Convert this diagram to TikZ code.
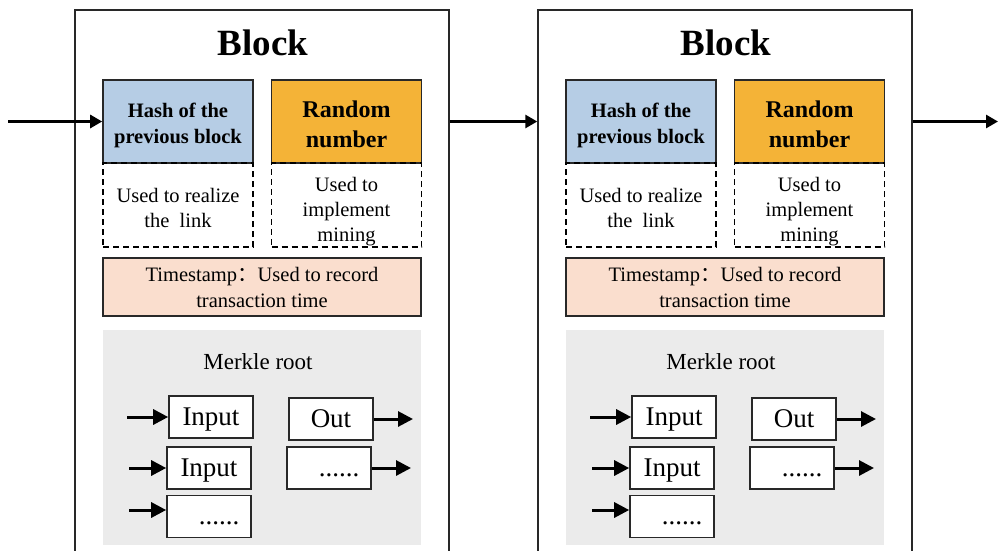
\documentclass[tikz,border=0pt]{standalone}
\usepackage{fontspec}
\setmainfont{Liberation Serif}
\newfontfamily\cjk{Noto Sans CJK SC}
\usetikzlibrary{arrows.meta,calc}
\definecolor{hash_blue}{RGB}{182, 205, 229}
\definecolor{rand_orange}{RGB}{244, 179, 55}
\definecolor{time_pink}{RGB}{250, 222, 206}
\definecolor{merkle_gray}{RGB}{235, 235, 235}
\definecolor{edge_gray}{RGB}{40, 40, 40}
\tikzstyle{ob}=[draw=edge_gray,line width=1.4pt,inner sep=0pt,
  minimum width=374pt,minimum height=560pt]
\tikzstyle{hb}=[draw=edge_gray,fill=hash_blue,line width=1.6pt,inner sep=0pt,
  minimum width=150pt,minimum height=83pt,align=center,text height=48pt,text depth=5pt,
  font=\fontsize{20.5}{26}\selectfont\bfseries]
\tikzstyle{rb}=[draw=edge_gray,fill=rand_orange,line width=1.6pt,inner sep=0pt,
  minimum width=150pt,minimum height=83pt,align=center,text height=55pt,text depth=4pt,
  font=\fontsize{24}{30}\selectfont\bfseries]
\tikzstyle{db}=[draw=black,dashed,dash pattern=on 6pt off 4pt,line width=1.8pt,
  inner sep=0pt,minimum width=150pt,minimum height=84pt,align=center,
  font=\fontsize{20.5}{25}\selectfont]
\tikzstyle{tb}=[draw=edge_gray,fill=time_pink,line width=1.6pt,inner sep=0pt,
  minimum width=318pt,minimum height=58pt,align=center,
  font=\fontsize{20.5}{26}\selectfont]
\tikzstyle{mb}=[fill=merkle_gray,inner sep=0pt,minimum width=318pt,minimum height=215pt]
\tikzstyle{ib}=[draw=edge_gray,fill=white,line width=1.6pt,inner sep=0pt,
  minimum width=84pt,minimum height=42pt,text height=20pt,text depth=4pt,
  font=\fontsize{27}{30}\selectfont]
\tikzstyle{arr}=[-{Triangle[length=12pt,width=13pt]},line width=2.8pt]
\tikzstyle{marr}=[-{Triangle[length=15pt,width=15pt]},line width=3pt]

\begin{document}
\begin{tikzpicture}[x=1pt,y=-1pt]
        \useasboundingbox (0, 0) rectangle (998, 550);
        % first block
        \node[style=ob] (1) at (262, 290) {};
        \node[anchor=base,font=\fontsize{37}{40}\selectfont\bfseries] (2) at (263, 55) {Block};
        \node[style=hb] (3) at (178, 121.5) {Hash of the\\previous block};
        \node[style=rb] (4) at (346.5, 121.5) {Random\\number};
        \node[style=db,text height=48pt,text depth=4pt] (5) at (178, 205) {Used to realize\\the\ \ link};
        \node[style=db,text height=76pt,text depth=4pt] (6) at (346.5, 205) {Used to\\implement\\mining};
        \node[style=tb] (7) at (262, 287) {Timestamp{\cjk ：}Used to record\\transaction time};
        \node[style=mb] (8) at (262, 437.5) {};
        \node[anchor=base,font=\fontsize{23}{28}\selectfont] (9) at (258, 369) {Merkle root};
        \node[style=ib] (10) at (211, 417) {Input};
        \node[style=ib] (11) at (331, 419) {Out};
        \node[style=ib] (12) at (209, 468) {Input};
        \node[style=ib] (13) at (329, 468) {\hspace*{20pt}......};
        \node[style=ib] (14) at (209, 516.5) {\hspace*{20pt}......};
        \coordinate (15) at (127, 417);
        \coordinate (16) at (129, 468);
        \coordinate (17) at (129, 510);
        \coordinate (18) at (413, 419);
        \coordinate (19) at (411, 468);
        % second block
        \node[style=ob] (21) at (725, 290) {};
        \node[anchor=base,font=\fontsize{37}{40}\selectfont\bfseries] (22) at (726, 55) {Block};
        \node[style=hb] (23) at (641, 121.5) {Hash of the\\previous block};
        \node[style=rb] (24) at (809.5, 121.5) {Random\\number};
        \node[style=db,text height=48pt,text depth=4pt] (25) at (641, 205) {Used to realize\\the\ \ link};
        \node[style=db,text height=76pt,text depth=4pt] (26) at (809.5, 205) {Used to\\implement\\mining};
        \node[style=tb] (27) at (725, 287) {Timestamp{\cjk ：}Used to record\\transaction time};
        \node[style=mb] (28) at (725, 437.5) {};
        \node[anchor=base,font=\fontsize{23}{28}\selectfont] (29) at (721, 369) {Merkle root};
        \node[style=ib] (30) at (674, 417) {Input};
        \node[style=ib] (31) at (794, 419) {Out};
        \node[style=ib] (32) at (672, 468) {Input};
        \node[style=ib] (33) at (792, 468) {\hspace*{20pt}......};
        \node[style=ib] (34) at (672, 516.5) {\hspace*{20pt}......};
        \coordinate (35) at (590, 417);
        \coordinate (36) at (592, 468);
        \coordinate (37) at (592, 510);
        \coordinate (38) at (876, 419);
        \coordinate (39) at (874, 468);
        % chain
        \coordinate (0) at (8, 121.5);
        \coordinate (40) at (998, 121.5);
        \draw[style=arr] (0) to (3.west);
        \draw[style=arr] (1.east |- 3.west) to (21.west |- 3.west);
        \draw[style=arr] (21.east |- 23.west) to (40);
        \draw[style=marr] (15) to (10.west);
        \draw[style=marr] (16) to (12.west);
        \draw[style=marr] (17) to (17 -| 14.west);
        \draw[style=marr] (11.east) to (18);
        \draw[style=marr] (13.east) to (19);
        \draw[style=marr] (35) to (30.west);
        \draw[style=marr] (36) to (32.west);
        \draw[style=marr] (37) to (37 -| 34.west);
        \draw[style=marr] (31.east) to (38);
        \draw[style=marr] (33.east) to (39);
    \end{tikzpicture}
\end{document}
